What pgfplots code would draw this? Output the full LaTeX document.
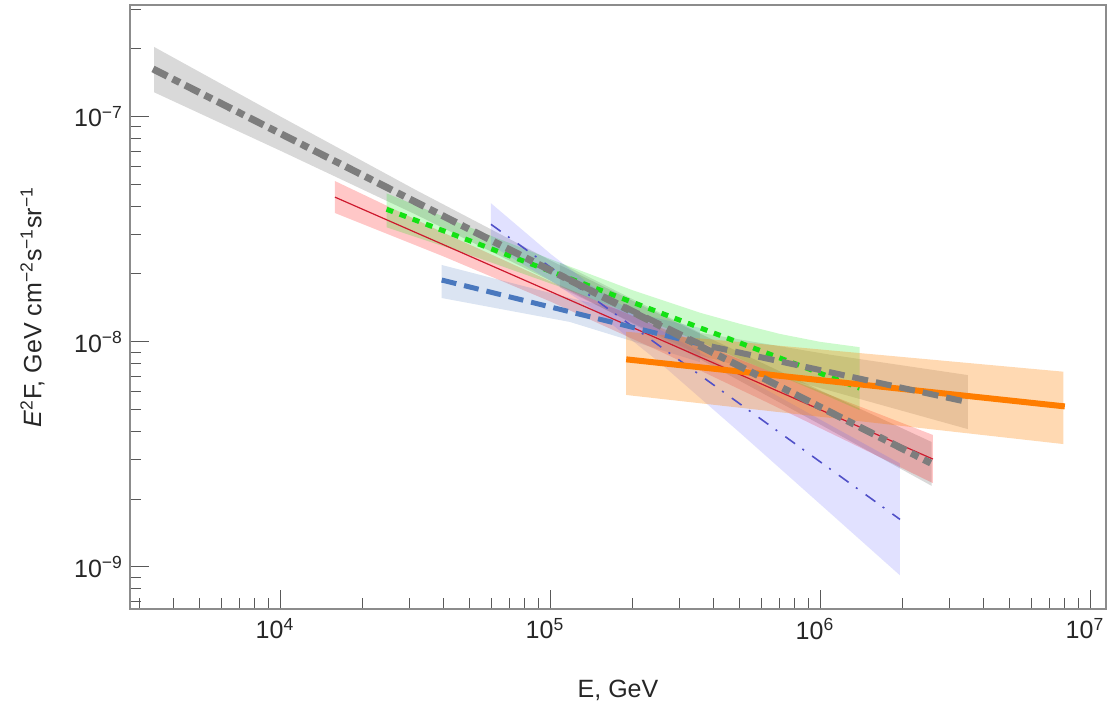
\documentclass[border=0pt]{standalone}
\usepackage{fontspec}
\setmainfont{Liberation Sans}
\usepackage{pgfplots}
\pgfplotsset{compat=1.18}
\definecolor{cgray}{RGB}{125,125,125}
\definecolor{cred}{RGB}{205,25,45}
\definecolor{cgreen}{RGB}{20,225,20}
\definecolor{cblue}{RGB}{74,120,190}
\definecolor{cpurple}{RGB}{80,80,200}
\definecolor{corange}{RGB}{255,125,0}
\definecolor{bgray}{RGB}{128,128,128}
\definecolor{bred}{RGB}{255,0,0}
\definecolor{bgreen}{RGB}{0,230,0}
\definecolor{bblue}{RGB}{74,120,190}
\definecolor{bpurple}{RGB}{90,90,255}
\definecolor{borange}{RGB}{255,128,0}
\begin{document}
\begin{tikzpicture}[font=\fontsize{12.5}{15}\selectfont]
\path[use as bounding box] (-65pt,-50.5pt) rectangle (492pt,304.5pt);
\begin{axis}[
  scale only axis, width=488pt, height=302pt,
  xmode=log, ymode=log,
  xmin=2760, xmax=1.137e7, ymin=6.49e-10, ymax=3.135e-7,
  xtick={1e4,1e5,1e6,1e7},
  xticklabels={10\textsuperscript{4},10\textsuperscript{5},10\textsuperscript{6},10\textsuperscript{7}},
  ytick={1e-9,1e-8,1e-7},
  yticklabels={10\textsuperscript{−9},10\textsuperscript{−8},10\textsuperscript{−7}},
  minor xtick={3000,4000,5000,6000,7000,8000,9000,2e4,3e4,4e4,5e4,6e4,7e4,8e4,9e4,2e5,3e5,4e5,5e5,6e5,7e5,8e5,9e5,2e6,3e6,4e6,5e6,6e6,7e6,8e6,9e6},
  minor ytick={7e-10,8e-10,9e-10,2e-9,3e-9,4e-9,5e-9,6e-9,7e-9,8e-9,9e-9,2e-8,3e-8,4e-8,5e-8,6e-8,7e-8,8e-8,9e-8,2e-7,3e-7},
  tick pos=left, tick align=inside,
  major tick length=9.5pt, minor tick length=5.5pt,
  every tick/.style={black!65, line width=0.5pt},
  axis line style={black!45, line width=0.6pt},
  ticklabel style={text=black!85},
  xticklabel style={xshift=-3pt, yshift=-1pt},
  xlabel={E, GeV},
  ylabel={\textit{E}\textsuperscript{2}F, GeV cm\textsuperscript{−2}s\textsuperscript{−1}sr\textsuperscript{−1}},
  xlabel style={at={(axis description cs:0.5,-0.1341)}, anchor=center, text=black!85},
  ylabel style={at={(axis description cs:-0.1,0.5)}, anchor=center, text=black!85},
]
% ---------- bands ----------
% gray (dash-dot) band
\addplot[draw=none, fill=bgray, fill opacity=0.3] coordinates {
(3388,2.042e-7) (1e4,9.99e-8) (3.162e4,4.72e-8) (1e5,2.291e-8) (3.162e5,1.162e-8) (1e6,6.06e-9) (2.57e6,3.585e-9)
(2.57e6,2.288e-9) (1e6,4.27e-9) (3.162e5,9.04e-9) (1e5,1.862e-8) (3.162e4,3.67e-8) (1e4,7.04e-8) (3388,1.284e-7)};
% gray (dashed, broken) band
\addplot[draw=none, fill=bgray, fill opacity=0.25] coordinates {
(1.08e5,2.245e-8) (3.56e5,1.096e-8) (1.08e6,8.76e-9) (3.50e6,7.11e-9)
(3.50e6,4.09e-9) (1.08e6,6.06e-9) (3.56e5,8.70e-9) (1.08e5,1.743e-8)};
% red band
\addplot[draw=none, fill=bred, fill opacity=0.22] coordinates {
(1.585e4,5.176e-8) (3.981e4,3.057e-8) (1e5,1.851e-8) (2.512e5,1.161e-8) (6.31e5,7.46e-9) (1.259e6,5.40e-9) (2.598e6,3.853e-9)
(2.598e6,2.353e-9) (1.259e6,3.60e-9) (6.31e5,5.38e-9) (2.512e5,9.11e-9) (1e5,1.505e-8) (3.981e4,2.399e-8) (1.585e4,3.733e-8)};
% green band
\addplot[draw=none, fill=bgreen, fill opacity=0.2] coordinates {
(2.46e4,4.566e-8) (5.46e4,3.090e-8) (1.08e5,2.242e-8) (2.01e5,1.692e-8) (3.56e5,1.346e-8) (5.01e5,1.201e-8) (7.05e5,1.083e-8) (9.92e5,9.99e-9) (1.39e6,9.46e-9)
(1.39e6,4.966e-9) (9.92e5,5.93e-9) (7.05e5,7.047e-9) (5.01e5,8.39e-9) (3.56e5,1.0e-8) (2.01e5,1.323e-8) (1.08e5,1.754e-8) (5.46e4,2.343e-8) (2.46e4,3.225e-8)};
% blue band
\addplot[draw=none, fill=bblue, fill opacity=0.2] coordinates {
(3.94e4,2.193e-8) (1.176e5,1.564e-8) (3.56e5,1.151e-8)
(3.56e5,8.125e-9) (1.176e5,1.224e-8) (3.94e4,1.564e-8)};
% purple band
\addplot[draw=none, fill=bpurple, fill opacity=0.18] coordinates {
(5.995e4,4.125e-8) (1e5,2.448e-8) (1.413e5,1.777e-8) (2.512e5,1.138e-8) (5.012e5,7.10e-9) (1e6,4.49e-9) (1.962e6,2.88e-9)
(1.962e6,9.16e-10) (1e6,1.884e-9) (5.012e5,3.94e-9) (2.512e5,8.13e-9) (1.413e5,1.411e-8) (1e5,1.863e-8) (5.995e4,2.680e-8)};
% orange band
\addplot[draw=none, fill=borange, fill opacity=0.3] coordinates {
(1.9e5,1.108e-8) (7.9e6,7.36e-9) (7.9e6,3.51e-9) (1.9e5,5.80e-9)};
% ---------- lines ----------
\addplot[cpurple, line width=0.8pt, dash pattern=on 6pt off 4.5pt on 1pt off 5pt] coordinates {
(5.995e4,3.325e-8) (1.962e6,1.624e-9)};
\addplot[cred, line width=0.6pt] coordinates {
(1.585e4,4.39e-8) (2.598e6,3.01e-9)};
\addplot[cblue, line width=2.5pt, dash pattern=on 7.5pt off 4pt] coordinates {
(3.94e4,1.88e-8) (3.56e5,9.77e-9)};
\addplot[cgreen, line width=2.5pt, dash pattern=on 3.5pt off 3.5pt] coordinates {
(2.46e4,3.88e-8) (1.39e6,6.22e-9)};
\addplot[corange, line width=3pt] coordinates {
(1.9e5,8.35e-9) (8.0e6,5.16e-9)};
\addplot[cgray, line width=3pt, dash pattern=on 8pt off 4pt] coordinates {
(1.08e5,1.98e-8) (3.56e5,9.77e-9) (3.50e6,5.39e-9)};
\addplot[cgray, line width=3.5pt, dash pattern=on 8pt off 3pt on 4pt off 3pt] coordinates {
(3357,1.63e-7) (2.55e6,2.89e-9)};
\end{axis}
\end{tikzpicture}
\end{document}
